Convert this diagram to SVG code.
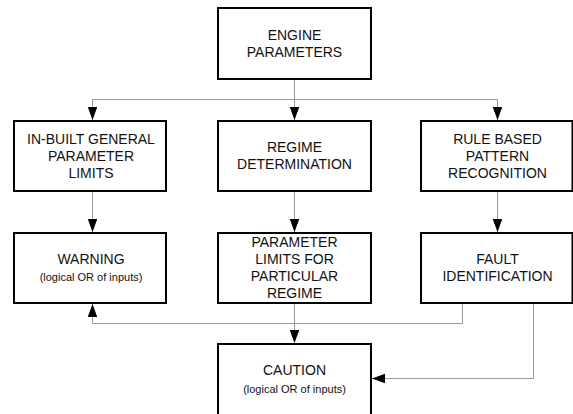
<svg xmlns="http://www.w3.org/2000/svg" width="573" height="414" viewBox="0 0 573 414">
<style>
.box{fill:#fff;stroke:#000;stroke-width:2}
.t{font-family:"Liberation Sans",Arial,sans-serif;font-size:14px;fill:#111;text-anchor:middle}
.s{font-family:"Liberation Sans",Arial,sans-serif;font-size:11px;fill:#111;text-anchor:middle}
.c{fill:none;stroke:#999;stroke-width:1}
</style>
<defs>
<marker id="ah" markerUnits="userSpaceOnUse" markerWidth="14" markerHeight="10" refX="13" refY="4.75" orient="auto" viewBox="0 0 14 10">
<path d="M0,0 L13,4.75 L0,9.5 Z" fill="#000"/>
</marker>
</defs>
<rect width="573" height="414" fill="#fff"/>
<g id="connectors">
<path class="c" d="M294.5,80 V99.5" stroke="#777"/>
<path class="c" d="M92.5,99.5 H497.5"/>
<path class="c" d="M92.5,99.5 V120" marker-end="url(#ah)"/>
<path class="c" d="M294.5,99.5 V120" marker-end="url(#ah)"/>
<path class="c" d="M497.5,99.5 V120" marker-end="url(#ah)"/>
<path class="c" d="M92.5,192 V232" marker-end="url(#ah)"/>
<path class="c" d="M294.5,192 V232" marker-end="url(#ah)"/>
<path class="c" d="M497.5,192 V232" marker-end="url(#ah)"/>
<path class="c" d="M462.5,304 V323.5 H92.5 V304" marker-end="url(#ah)"/>
<path class="c" d="M294.5,304 V343" marker-end="url(#ah)"/>
<path class="c" d="M533.5,304 V378.5 H372" marker-end="url(#ah)"/>
</g>
<g id="engine">
<rect class="box" x="218" y="8" width="153" height="71"/>
<text class="t" x="294.5" y="40">ENGINE</text>
<text class="t" x="294.5" y="57">PARAMETERS</text>
</g>
<g id="inbuilt">
<rect class="box" x="14" y="121" width="152" height="70"/>
<text class="t" x="91" y="144">IN-BUILT GENERAL</text>
<text class="t" x="91" y="161">PARAMETER</text>
<text class="t" x="91" y="178">LIMITS</text>
</g>
<g id="regime">
<rect class="box" x="218" y="121" width="153" height="70"/>
<text class="t" x="294.5" y="152">REGIME</text>
<text class="t" x="294.5" y="169">DETERMINATION</text>
</g>
<g id="rule">
<rect class="box" x="421" y="121" width="151.5" height="70"/>
<text class="t" x="497.5" y="144">RULE BASED</text>
<text class="t" x="497.5" y="161">PATTERN</text>
<text class="t" x="497.5" y="178">RECOGNITION</text>
</g>
<g id="warning">
<rect class="box" x="14" y="233" width="152" height="70"/>
<text class="t" x="91" y="264">WARNING</text>
<text class="s" x="91" y="281">(logical OR of inputs)</text>
</g>
<g id="limits">
<rect class="box" x="218" y="233" width="153" height="70"/>
<text class="t" x="294.5" y="246.5">PARAMETER</text>
<text class="t" x="294.5" y="263.5">LIMITS FOR</text>
<text class="t" x="294.5" y="280.5">PARTICULAR</text>
<text class="t" x="294.5" y="297.5">REGIME</text>
</g>
<g id="fault">
<rect class="box" x="421" y="233" width="151.5" height="70"/>
<text class="t" x="497.5" y="264">FAULT</text>
<text class="t" x="497.5" y="281">IDENTIFICATION</text>
</g>
<g id="caution">
<rect class="box" x="218" y="344" width="153" height="80"/>
<text class="t" x="294.5" y="375">CAUTION</text>
<text class="s" x="294.5" y="393">(logical OR of inputs)</text>
</g>
</svg>
